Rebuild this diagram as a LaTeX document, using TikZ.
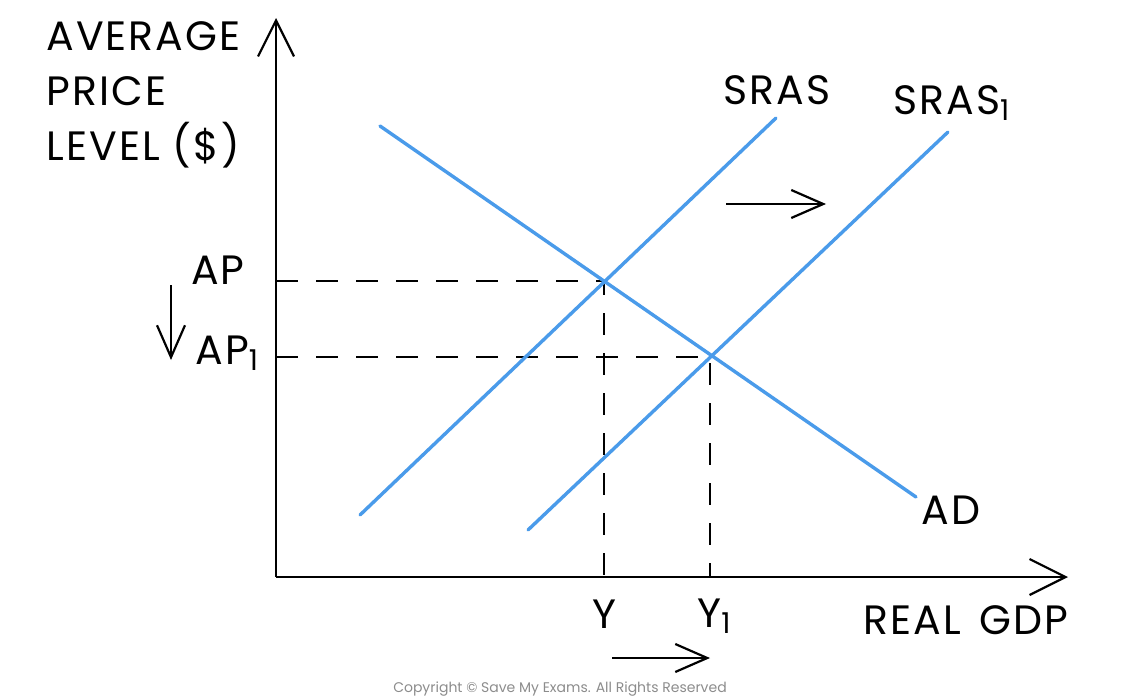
\documentclass[tikz,border=0pt]{standalone}
\usepackage{fontspec}
\setmainfont{Poppins}[LetterSpace=5]
\usetikzlibrary{arrows.meta}
\definecolor{curveblue}{HTML}{4A9BEA}
\begin{document}
\begin{tikzpicture}[x=0.5pt,y=-0.5pt,
  axis/.style={line width=1.1pt,-{Straight Barb[length=18pt,width=18pt,line width=1.1pt]}},
  shiftarrow/.style={line width=1.1pt,-{Straight Barb[length=16pt,width=14pt,line width=1.1pt]}},
  curve/.style={curveblue,line width=1.7pt},
  guide/.style={line width=1pt,dash pattern=on 11pt off 9pt},
  lbl/.style={font=\fontsize{20.5}{24}\selectfont,inner sep=0pt},
  copy/.style={font=\fontspec{Poppins}\fontsize{7}{8}\selectfont,text=black!45,inner sep=0pt}]
\useasboundingbox (0,0) rectangle (1148,696);
% axes
\coordinate (O) at (276,577);
\coordinate (ytop) at (276,18);
\coordinate (xend) at (1068,577);
\draw[axis] (O) -- (ytop);
\draw[axis] (O) -- (xend);
% equilibrium points
\coordinate (E0) at (604,281);
\coordinate (E1) at (710,357);
\coordinate (AP0) at (276,281);
\coordinate (AP1) at (276,357);
\coordinate (Y0) at (604,577);
\coordinate (Y1) at (710,577);
\draw[guide] (AP0) -- (E0) -- (Y0);
\draw[guide] (AP1) -- (E1) -- (Y1);
% curves
\coordinate (s0a) at (360,515);
\coordinate (s0b) at (776,118);
\coordinate (s1a) at (528,530);
\coordinate (s1b) at (948,132);
\coordinate (ada) at (380,126);
\coordinate (adb) at (916,497);
\draw[curve,line cap=round] (s0a) -- (s0b);
\draw[curve,line cap=round] (s1a) -- (s1b);
\draw[curve,line cap=round] (ada) -- (adb);
% labels
\node[lbl,anchor=west] (avg) at (46,36) {AVERAGE};
\node[lbl,anchor=west] (price) at (46,91) {PRICE};
\node[lbl,anchor=west] (level) at (46,145) {LEVEL (\$)};
\node[lbl] (sras) at (777,90) {SRAS};
\node[lbl,anchor=west] (sras1) at (893,103) {SRAS\textsubscript{1}};
\node[lbl] (ad) at (951,510) {AD};
\node[lbl] (ap) at (218,270) {AP};
\node[lbl,anchor=west] (ap1) at (195,353) {AP\textsubscript{1}};
\node[lbl] (y0) at (604,614) {Y};
\node[lbl,anchor=west] (y1) at (697,616) {Y\textsubscript{1}};
\node[lbl] (gdp) at (966,620) {REAL\hspace{0.45em}GDP};
% shift arrows
\coordinate (sa0) at (726,204);
\coordinate (sa1) at (826,204);
\draw[shiftarrow] (sa0) -- (sa1);
\coordinate (pa0) at (171,285);
\coordinate (pa1) at (171,360);
\draw[shiftarrow] (pa0) -- (pa1);
\coordinate (ya0) at (612,658);
\coordinate (ya1) at (710,658);
\draw[shiftarrow] (ya0) -- (ya1);
\node[copy] (cr) at (560,689) {Copyright © Save My Exams. All Rights Reserved};
\end{tikzpicture}
\end{document}
